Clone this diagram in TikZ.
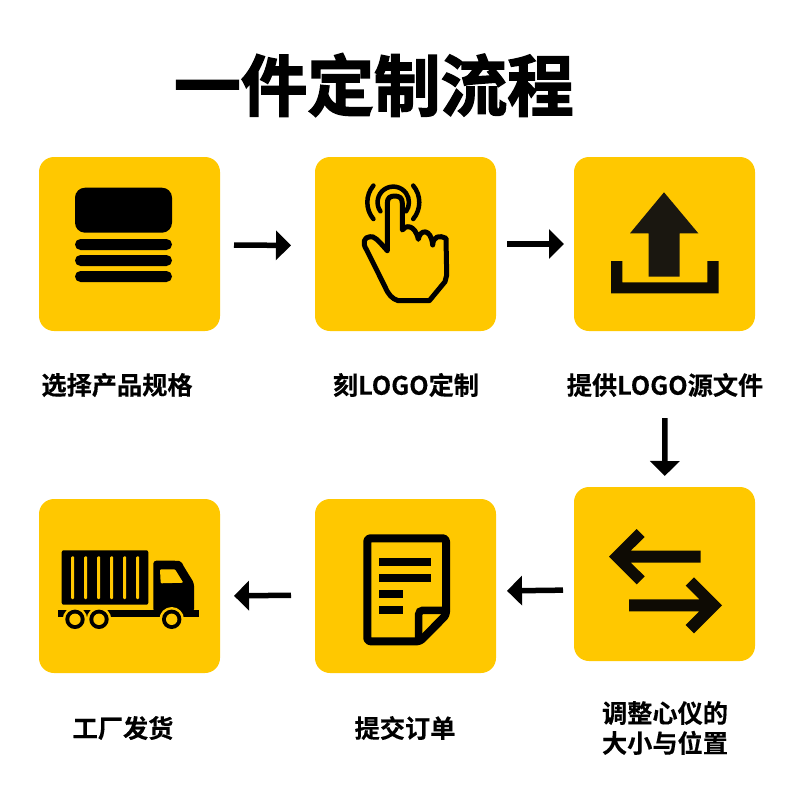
\documentclass[tikz,border=0pt]{standalone}
\usepackage{fontspec}
\setmainfont{Noto Sans CJK SC}[BoldFont={Noto Sans CJK SC Bold}]
\newfontfamily\titlefont{Noto Sans CJK SC Bold}[FakeBold=2.2]
\newfontfamily\labelfont{Noto Sans CJK SC Bold}[FakeBold=0.3]
\usetikzlibrary{arrows.meta,positioning}
\definecolor{amber}{HTML}{FFC800}
\definecolor{ink}{HTML}{000000}
\definecolor{darkink}{HTML}{0E0B04}
\definecolor{softink}{HTML}{1A1710}
\tikzset{
  stepbox/.style={rectangle,rounded corners=15pt,fill=amber,minimum width=181pt,minimum height=174pt,outer sep=0pt},
  steplabel/.style={align=center,font=\fontsize{25.2pt}{30pt}\labelfont,text=ink,inner sep=0pt},
  titlelabel/.style={font=\fontsize{66.6pt}{70pt}\titlefont,text=ink,inner sep=0pt},
  arrow/.style={-{Triangle[length=15pt,width=29pt]},line width=5.5pt,draw=ink},
  outline/.style={draw=ink,line width=5pt,line cap=round,line join=round},
  cutout/.style={fill=amber}
}
\begin{document}
\begin{tikzpicture}[x=1pt,y=-1pt]
  \useasboundingbox (0,0) rectangle (790,800);
  \node[titlelabel] (title) at (374,85) {一件定制流程};

  \node[stepbox] (select) at (129.5,244) {};
  \node[stepbox, right=95pt of select] (engrave) {};
  \node[stepbox, right=78pt of engrave] (upload) {};
  \node[stepbox, below=156pt of upload] (adjust) {};
  \node[stepbox, left=78pt of adjust, yshift=-12pt] (order) {};
  \node[stepbox, left=95pt of order] (ship) {};

  \node[steplabel] (selectlabel) at (117,385) {选择产品规格};
  \node[steplabel] (engravelabel) at (406,385) {刻LOGO定制};
  \node[steplabel] (uploadlabel) at (665,385) {提供LOGO源文件};
  \node[steplabel] (adjustlabel) at (665,728) {调整心仪的\\大小与位置};
  \node[steplabel] (orderlabel) at (405,728) {提交订单};
  \node[steplabel] (shiplabel) at (123,728) {工厂发货};

  \draw[arrow, shorten <=14pt, shorten >=24pt] ([yshift=-1pt]select.east) -- ([yshift=-1.5pt]engrave.west);
  \draw[arrow, shorten <=11pt, shorten >=10pt] (engrave) -- (upload);
  \draw[arrow, shorten <=21pt, shorten >=11pt] (uploadlabel) -- (adjust);
  \draw[arrow, shorten <=11pt, shorten >=11pt] ([yshift=-16pt]adjust.west) -- ([yshift=-5pt]order.east);
  \draw[arrow, shorten <=24pt, shorten >=14pt] ([yshift=-9pt]order.west) -- ([yshift=-10pt]ship.east);

  % list icon
  \fill[ink,rounded corners=10pt] (75,187.7) rectangle (172,232.7);
  \foreach \y in {239,255,271}
    \fill[ink,rounded corners=5.5pt] (75,\y) rectangle (172,\y+11);

  % hand icon
  \draw[outline] (387.3,250.7) -- (387.3,203.3) .. controls (387.3,198) and (390,196) .. (394.7,196)
    .. controls (399.5,196) and (402.3,198) .. (402.3,203.3) -- (402.3,230)
    .. controls (405,225) and (415,224) .. (418.3,239.3)
    .. controls (420,229) and (431,228) .. (432.7,245)
    .. controls (433,236) and (440,235) .. (446,238.3)
    -- (446.7,275) -- (445,281.7) -- (429.3,300.7) -- (398.3,300.7)
    .. controls (392,299) and (388,294) .. (385,286.7)
    -- (366.7,250) .. controls (362,243) and (364,237) .. (370,236.7)
    .. controls (374,236) and (377,239) .. (387.3,250.7);
  \draw[outline,line width=4.5pt] (380.4,211.3) arc[start angle=215,end angle=-35,radius=15.7pt];
  \draw[outline,line width=4.5pt] (373.4,185.6) arc[start angle=140,end angle=220,radius=26pt];
  \draw[outline,line width=4.5pt] (413.2,185.6) arc[start angle=40,end angle=-40,radius=26pt];

  % upload icon
  \fill[softink] (664,192.3) -- (698.3,233.3) -- (679.7,233.3) -- (679.7,276.7) -- (648.7,276.7) -- (648.7,233.3) -- (630,233.3) -- cycle;
  \fill[darkink] (611,261) -- (622.3,261) -- (622.3,282.3) -- (707.3,282.3) -- (707.3,261) -- (718.7,261) -- (718.7,293.3) -- (611,293.3) -- cycle;

  % swap icon
  \fill[darkink] (609,556.7) -- (636.7,529) -- (644.7,537) -- (630.7,550.7) -- (700.7,550.7) -- (700.7,562.7) -- (630.7,562.7) -- (644.7,576.3) -- (636.7,584.3) -- cycle;
  \fill[darkink] (722,605.3) -- (694,577.3) -- (685.7,585.7) -- (699.3,599.3) -- (629,599.3) -- (629,611.3) -- (699.3,611.3) -- (685.7,625) -- (694,633.3) -- cycle;

  % document icon
  \draw[ink,line width=8pt,line join=round,rounded corners=3pt] (367.3,538.3) -- (446,538.3) -- (446,615) -- (420,641.3) -- (367.3,641.3) -- cycle;
  \draw[ink,line width=7.5pt,rounded corners=4pt] (418.7,641.3) -- (418.7,610.3) -- (446,610.3);
  \fill[ink] (379,558.3) rectangle (430.7,566.3);
  \fill[ink] (379,574.3) rectangle (430.7,582.3);
  \fill[ink] (379,590) rectangle (403,598);
  \fill[ink] (379,606) rectangle (403,614);

  % truck icon
  \fill[ink,rounded corners=2pt] (61.7,550.3) rectangle (148.3,604.7);
  \foreach \x in {72.7,85.7,98.7,111.7,124.7,137.7}
    \fill[cutout,rounded corners=1pt] (\x-1.5,556.3) rectangle (\x+1.5,599);
  \fill[ink,rounded corners=3pt] (153.3,612) -- (153.3,560.7) -- (176,560.7) .. controls (180,561) and (182,563) .. (183.5,566) -- (194,583) -- (194,612) -- cycle;
  \fill[cutout,rounded corners=1pt] (160,569.3) -- (175,569.3) -- (183.3,582.7) -- (160.7,583.3) -- cycle;
  \fill[ink] (58.3,610) rectangle (199.3,617.3);
  \foreach \x in {75,99,171.7} {
    \fill[cutout] (\x,619.3) circle[radius=12.3pt];
    \fill[ink] (\x,619.3) circle[radius=9.7pt];
    \fill[cutout] (\x,619.3) circle[radius=5.7pt];
  }
\end{tikzpicture}
\end{document}
